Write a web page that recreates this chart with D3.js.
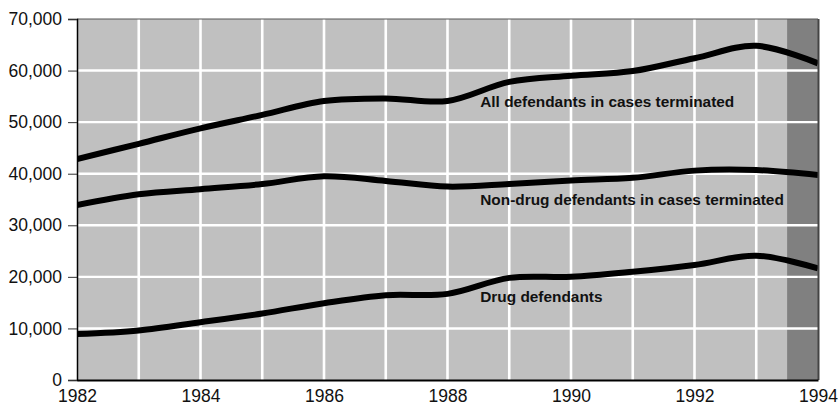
<!DOCTYPE html>
<html>
<head>
<meta charset="utf-8">
<script src="https://cdn.jsdelivr.net/npm/d3@7"></script>
<style>
  body { margin: 0; background: #fff; }
  text { font-family: "Liberation Sans", Arial, sans-serif; }
</style>
</head>
<body>
<div id="chart"></div>
<script>
// data
var years      = [1982, 1983, 1984, 1985, 1986, 1987, 1988, 1989, 1990, 1991, 1992, 1993, 1994];
var all_defs   = [42850, 45800, 48800, 51400, 54100, 54600, 54100, 57800, 59000, 59900, 62400, 64800, 61400];
var non_drug   = [33900, 36000, 37000, 38000, 39500, 38600, 37500, 38000, 38700, 39200, 40600, 40700, 39750];
var drug       = [8900, 9600, 11200, 12900, 14900, 16450, 16700, 19800, 20000, 21000, 22300, 24100, 21650];
var y_ticks    = [0, 10000, 20000, 30000, 40000, 50000, 60000, 70000];
var x_ticks    = [1982, 1984, 1986, 1988, 1990, 1992, 1994];
var band_start = 1993.5;

var series = [
  { name: "All defendants in cases terminated",       values: all_defs, lx: 1988.53, ly: 52900 },
  { name: "Non-drug defendants in cases terminated",  values: non_drug, lx: 1988.53, ly: 33900 },
  { name: "Drug defendants",                          values: drug,     lx: 1988.53, ly: 15050 }
];

// --------------------------------------------------------
var chart_width  = 838;
var chart_height = 407;
var p_left = 77, p_right = 818, p_top = 19, p_bottom = 380;

var svg = d3.select("#chart")
  .append("svg")
  .attr("width", chart_width)
  .attr("height", chart_height);

var x_scale = d3.scaleLinear().domain([1982, 1994]).range([p_left, p_right]);
var y_scale = d3.scaleLinear().domain([0, 70000]).range([p_bottom, p_top]);

// plot background + shaded band
svg.append("rect")
  .attr("x", p_left).attr("y", p_top)
  .attr("width", p_right - p_left).attr("height", p_bottom - p_top)
  .attr("fill", "#c0c0c0");

svg.append("rect")
  .attr("x", x_scale(band_start)).attr("y", p_top)
  .attr("width", x_scale(1994) - x_scale(band_start)).attr("height", p_bottom - p_top)
  .attr("fill", "#808080");

// white grid
svg.append("g")
  .selectAll("line")
  .data(years.slice(1, -1))
  .enter()
  .append("line")
  .attr("x1", d => x_scale(d)).attr("x2", d => x_scale(d))
  .attr("y1", p_top).attr("y2", p_bottom)
  .attr("stroke", "#fff").attr("stroke-width", 2.6);

svg.append("g")
  .selectAll("line")
  .data(y_ticks.slice(1, -1))
  .enter()
  .append("line")
  .attr("x1", p_left).attr("x2", p_right)
  .attr("y1", d => y_scale(d)).attr("y2", d => y_scale(d))
  .attr("stroke", "#fff").attr("stroke-width", 2.4);

// lines
svg.append("clipPath").attr("id", "plot-clip")
  .append("rect")
  .attr("x", p_left).attr("y", p_top)
  .attr("width", p_right - p_left).attr("height", p_bottom - p_top);

var line = d3.line()
  .x((d, i) => x_scale(years[i]))
  .y(d => y_scale(d))
  .curve(d3.curveCatmullRom);

var lines = svg.append("g").attr("clip-path", "url(#plot-clip)");
series.forEach(s => {
  lines.append("path")
    .attr("d", line(s.values))
    .attr("fill", "none")
    .attr("stroke", "#000")
    .attr("stroke-width", 6)
    .attr("stroke-linecap", "butt");
});

// series labels
svg.append("g")
  .selectAll("text")
  .data(series)
  .enter()
  .append("text")
  .attr("x", d => x_scale(d.lx))
  .attr("y", d => y_scale(d.ly))
  .attr("font-size", 15.4)
  .attr("font-weight", "bold")
  .attr("fill", "#111")
  .text(d => d.name);

// frame: top and right edges
svg.append("line")
  .attr("x1", p_left).attr("x2", p_right)
  .attr("y1", p_top).attr("y2", p_top)
  .attr("stroke", "#555").attr("stroke-width", 1);
svg.append("line")
  .attr("x1", p_right + 0.5).attr("x2", p_right + 0.5)
  .attr("y1", p_top).attr("y2", p_bottom)
  .attr("stroke", "#444").attr("stroke-width", 2);

// axes
var y_axis = d3.axisLeft(y_scale)
  .tickValues(y_ticks)
  .tickSize(9)
  .tickPadding(6)
  .tickFormat(d3.format(","));

svg.append("g")
  .attr("class", "y-axis")
  .attr("transform", "translate(" + p_left + ",0)")
  .call(y_axis)
  .call(g => g.select(".domain").attr("stroke", "#000").attr("stroke-width", 1.5))
  .call(g => g.selectAll(".tick line").attr("stroke", "#333"))
  .call(g => g.selectAll("text").attr("font-size", 17.5).attr("fill", "#111")
    .attr("font-family", "Liberation Sans, Arial, sans-serif"));

var x_axis = d3.axisBottom(x_scale)
  .tickValues(x_ticks)
  .tickSize(0)
  .tickPadding(10)
  .tickFormat(d3.format("d"));

svg.append("g")
  .attr("class", "x-axis")
  .attr("transform", "translate(0," + p_bottom + ")")
  .call(x_axis)
  .call(g => g.select(".domain").attr("stroke", "#000").attr("stroke-width", 2))
  .call(g => g.selectAll("text").attr("font-size", 17.5).attr("fill", "#111")
    .attr("font-family", "Liberation Sans, Arial, sans-serif"));
</script>
</body>
</html>
